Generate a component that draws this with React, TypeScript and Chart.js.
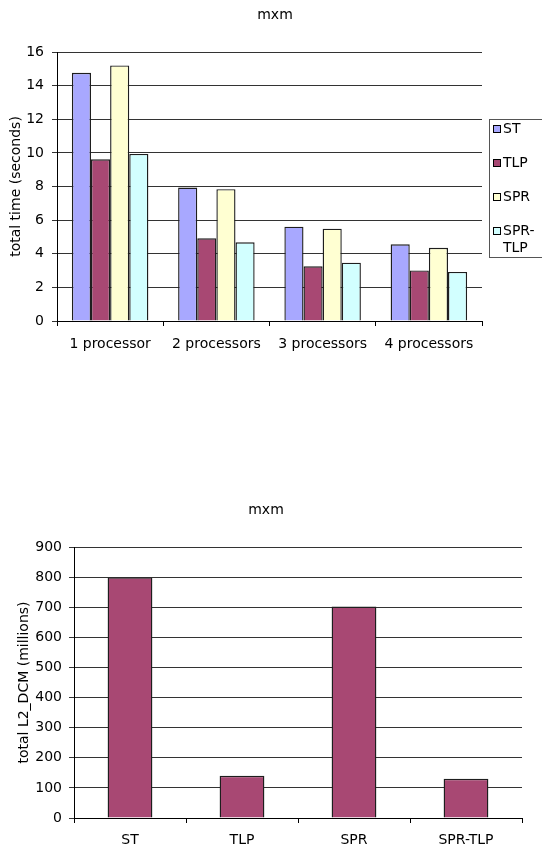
import { useEffect, useRef } from 'react';
import { Chart, registerables } from 'chart.js';

Chart.register(...registerables);

const FONT_FAMILY = "'DejaVu Sans', Verdana, sans-serif";
const FONT_SIZE = 14;

// Kernel name shown above both charts
const chartTitle = 'mxm';

// Total run time per processor count, one series per technique
const processorLabels = ['1 processor', '2 processors', '3 processors', '4 processors'];
const seriesNames = ['ST', 'TLP', 'SPR', 'SPR-TLP'];
const stSeconds = [14.76, 7.94, 5.61, 4.56];
const tlpSeconds = [9.62, 4.92, 3.25, 3.01];
const sprSeconds = [15.2, 7.84, 5.49, 4.35];
const sprTlpSeconds = [9.94, 4.68, 3.47, 2.92];
const timeAxisTitle = 'total time (seconds)';
const timeAxisMin = 0;
const timeAxisMax = 16;
const timeAxisStep = 2;

// Total L2 data cache misses per technique
const techniqueLabels = ['ST', 'TLP', 'SPR', 'SPR-TLP'];
const l2MissMillions = [799, 140, 702, 130];
const missAxisTitle = 'total L2_DCM (millions)';
const missAxisMin = 0;
const missAxisMax = 900;
const missAxisStep = 100;

const seriesColors = ['#a8a8ff', '#a84873', '#ffffd2', '#d2ffff'];
const missColor = '#a84873';
const outlineColor = '#1e1e1e';
const gridColor = '#333';

const font = { family: FONT_FAMILY, size: FONT_SIZE };

// Chart caption drawn at a fixed spot above the plot
const captionPlugin = {
  id: 'caption',
  afterDraw(chart: any, _args: any, opts: any) {
    if (!opts || !opts.text) return;
    const ctx = chart.ctx;
    ctx.save();
    ctx.font = `${FONT_SIZE}px ${FONT_FAMILY}`;
    ctx.fillStyle = '#000';
    ctx.textAlign = 'center';
    ctx.textBaseline = 'alphabetic';
    ctx.fillText(opts.text, opts.x, opts.baseline);
    ctx.restore();
  },
};

function wrapLabel(ctx: CanvasRenderingContext2D, text: string, maxWidth: number): string[] {
  if (ctx.measureText(text).width <= maxWidth || text.indexOf('-') < 0) return [text];
  const cut = text.indexOf('-') + 1;
  return [text.slice(0, cut), text.slice(cut)];
}

// Boxed legend to the right of the plot, long names wrap at the hyphen
const boxLegendPlugin = {
  id: 'boxLegend',
  afterDraw(chart: any, _args: any, opts: any) {
    if (!opts || !opts.display) return;
    const ctx: CanvasRenderingContext2D = chart.ctx;
    const left = chart.chartArea.right + opts.gap;
    ctx.save();
    ctx.strokeStyle = '#555';
    ctx.lineWidth = 1;
    ctx.strokeRect(left + 0.5, opts.top + 0.5, chart.width - left + 10, opts.bottom - opts.top);
    ctx.font = `${FONT_SIZE}px ${FONT_FAMILY}`;
    ctx.textAlign = 'left';
    ctx.textBaseline = 'middle';
    const textX = left + 14;
    const maxWidth = chart.width - textX - 2;
    chart.data.datasets.forEach((ds: any, i: number) => {
      const y = opts.firstY + i * opts.step;
      const sx = left + 4;
      const sy = Math.round(y - 4);
      ctx.fillStyle = ds.backgroundColor;
      ctx.fillRect(sx, sy, 8, 8);
      ctx.strokeStyle = '#000';
      ctx.strokeRect(sx + 0.5, sy + 0.5, 7, 7);
      ctx.fillStyle = '#000';
      wrapLabel(ctx, ds.label, maxWidth).forEach((line, j) => {
        ctx.fillText(line, textX, y + j * opts.lineGap);
      });
    });
    ctx.restore();
  },
};

function timeChartConfig(): any {
  const series = [stSeconds, tlpSeconds, sprSeconds, sprTlpSeconds];
  return {
    type: 'bar',
    data: {
      labels: processorLabels,
      datasets: series.map((values, i) => ({
        label: seriesNames[i],
        data: values,
        backgroundColor: seriesColors[i],
        borderColor: outlineColor,
        borderWidth: 1.4,
        categoryPercentage: 0.72,
        barPercentage: 1,
      })),
    },
    options: {
      responsive: false,
      animation: false,
      devicePixelRatio: 1,
      layout: { padding: { top: 52, right: 60, left: 0, bottom: 0 } },
      plugins: {
        legend: { display: false },
        title: { display: false },
        tooltip: { enabled: false },
        caption: { text: chartTitle, x: 275, baseline: 18.5 },
        boxLegend: { display: true, gap: 7, top: 119, bottom: 257, firstY: 129, step: 34, lineGap: 17 },
      },
      scales: {
        x: {
          grid: { display: true, drawOnChartArea: false, drawTicks: true, tickLength: 5, color: '#000', offset: true },
          border: { display: true, color: '#000', width: 1 },
          ticks: { color: '#000', font, padding: 10, maxRotation: 0, autoSkip: false },
          afterFit: (s: any) => { s.height = 39; },
        },
        y: {
          min: timeAxisMin,
          max: timeAxisMax,
          grid: { color: gridColor, tickLength: 5, drawTicks: true },
          border: { display: true, color: '#000', width: 1 },
          ticks: { stepSize: timeAxisStep, color: '#000', font, padding: 8 },
          title: { display: true, text: timeAxisTitle, color: '#000', font, padding: { top: 7.6, bottom: 0 } },
          afterFit: (s: any) => { s.width = 57; },
        },
      },
    },
    plugins: [captionPlugin, boxLegendPlugin],
  };
}

function missChartConfig(): any {
  return {
    type: 'bar',
    data: {
      labels: techniqueLabels,
      datasets: [
        {
          label: missAxisTitle,
          data: l2MissMillions,
          backgroundColor: missColor,
          borderColor: outlineColor,
          borderWidth: 1.4,
          categoryPercentage: 0.4,
          barPercentage: 1,
        },
      ],
    },
    options: {
      responsive: false,
      animation: false,
      devicePixelRatio: 1,
      layout: { padding: { top: 57, right: 20, left: 0, bottom: 0 } },
      plugins: {
        legend: { display: false },
        title: { display: false },
        tooltip: { enabled: false },
        caption: { text: chartTitle, x: 266, baseline: 24 },
      },
      scales: {
        x: {
          grid: { display: true, drawOnChartArea: false, drawTicks: true, tickLength: 5, color: '#000', offset: true },
          border: { display: true, color: '#000', width: 1 },
          ticks: { color: '#000', font, padding: 9, maxRotation: 0, autoSkip: false },
          afterFit: (s: any) => { s.height = 27; },
        },
        y: {
          min: missAxisMin,
          max: missAxisMax,
          grid: { color: gridColor, tickLength: 5, drawTicks: true },
          border: { display: true, color: '#000', width: 1 },
          ticks: { stepSize: missAxisStep, color: '#000', font, padding: 7 },
          title: { display: true, text: missAxisTitle, color: '#000', font, padding: { top: 15.6, bottom: 0 } },
          afterFit: (s: any) => { s.width = 74; },
        },
      },
    },
    plugins: [captionPlugin],
  };
}

function BarCanvas({ makeConfig, top, height }: { makeConfig: () => any; top: number; height: number }) {
  const ref = useRef<HTMLCanvasElement>(null);
  useEffect(() => {
    if (!ref.current) return;
    const chart = new Chart(ref.current, makeConfig());
    return () => chart.destroy();
  }, [makeConfig]);
  return (
    <canvas
      ref={ref}
      width={542}
      height={height}
      style={{ position: 'absolute', left: 0, top, width: 542, height, display: 'block' }}
    />
  );
}

export default function App() {
  return (
    <div
      style={{
        position: 'absolute',
        left: 0,
        top: 0,
        width: 542,
        height: 845,
        background: '#fff',
        overflow: 'hidden',
      }}
    >
      <BarCanvas makeConfig={timeChartConfig} top={0} height={360} />
      <BarCanvas makeConfig={missChartConfig} top={490} height={355} />
    </div>
  );
}
